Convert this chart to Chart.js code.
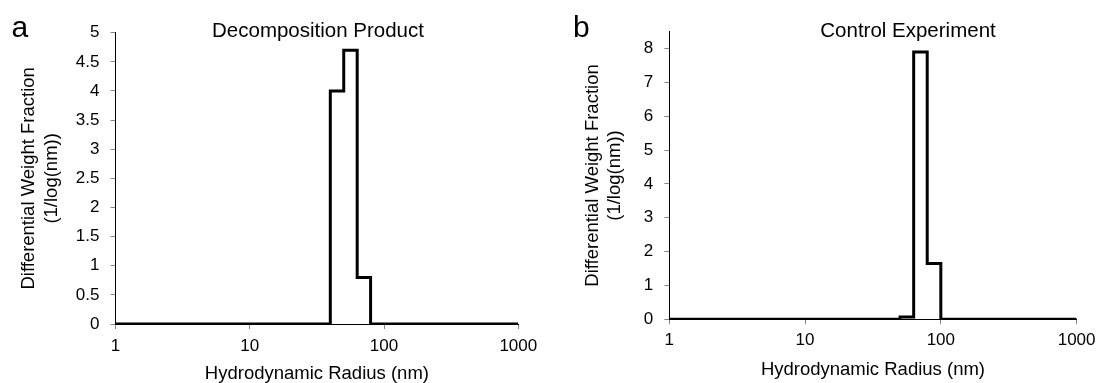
<!DOCTYPE html>
<html>
<head>
<meta charset="utf-8">
<script src="https://cdn.jsdelivr.net/npm/chart.js@4.4.0/dist/chart.umd.min.js"></script>
<style>
  html, body { margin: 0; padding: 0; background: #fff; }
  #wrap { position: relative; width: 1101px; height: 383px; overflow: hidden; }
  .panel { position: absolute; top: 0; height: 383px; }
  #panelA { left: 0; width: 555px; }
  #panelB { left: 555px; width: 546px; }
</style>
</head>
<body>
<div id="wrap">
  <div class="panel" id="panelA"><canvas id="chartA" width="555" height="383"></canvas></div>
  <div class="panel" id="panelB"><canvas id="chartB" width="546" height="383"></canvas></div>
</div>
<script>
// bin edges (nm) and differential weight fraction
const radiusA = [1, 39.8, 50.1, 63.1, 79.4, 1000];
const fractionA = [0, 4.0, 4.7, 0.8, 0, 0];
const radiusB = [1, 50.1, 63.1, 79.4, 100, 1000];
const fractionB = [0, 0.07, 7.9, 1.65, 0, 0];
const radiusTicks = [1, 10, 100, 1000];
const fractionTicksA = [0, 0.5, 1, 1.5, 2, 2.5, 3, 3.5, 4, 4.5, 5];
const fractionTicksB = [0, 1, 2, 3, 4, 5, 6, 7, 8];
const titleA = 'Decomposition Product';
const titleB = 'Control Experiment';
const xTitle = 'Hydrodynamic Radius (nm)';
const yTitle = ['Differential Weight Fraction', '(1/log(nm))'];

const FONT = "'Liberation Sans', Arial, sans-serif";
Chart.defaults.font.family = FONT;
Chart.defaults.color = '#000';

const panelText = {
  id: 'panelText',
  afterDraw(chart, args, opts) {
    const ctx = chart.ctx;
    ctx.save();
    ctx.fillStyle = '#000';
    ctx.textBaseline = 'alphabetic';
    ctx.font = '30px ' + FONT;
    ctx.textAlign = 'left';
    ctx.fillText(opts.letter, opts.letterX, opts.letterY);
    ctx.font = '20.5px ' + FONT;
    ctx.textAlign = 'center';
    ctx.fillText(opts.title, opts.titleX, opts.titleY);
    ctx.restore();
  }
};

function makeChart(id, radius, fraction, yTicks, cfg) {
  const ctx = document.getElementById(id).getContext('2d');
  return new Chart(ctx, {
    type: 'line',
    data: {
      datasets: [{
        data: radius.map((r, i) => ({ x: r, y: fraction[i] })),
        stepped: 'before',
        borderColor: '#000',
        borderWidth: 3,
        pointRadius: 0,
        fill: false
      }]
    },
    options: {
      responsive: false,
      animation: false,
      layout: { padding: { left: 0, top: cfg.top, right: cfg.right, bottom: cfg.bottom } },
      plugins: {
        legend: { display: false },
        tooltip: { enabled: false },
        panelText: cfg.text
      },
      scales: {
        x: {
          type: 'logarithmic',
          min: 1,
          max: 1000,
          afterBuildTicks: (scale) => { scale.ticks = radiusTicks.map(v => ({ value: v })); },
          afterFit: (scale) => { scale.height = cfg.xHeight; },
          ticks: { font: { size: 17 }, padding: cfg.xPad, maxRotation: 0, callback: (v) => String(v) },
          grid: { drawOnChartArea: false, drawTicks: true, tickLength: 5, color: '#888' },
          border: { display: true, color: '#000', width: 1 },
          title: { display: true, text: xTitle, font: { size: 18.5, lineHeight: 1 }, padding: { top: 0, bottom: 0 } }
        },
        y: {
          min: 0,
          max: cfg.yMax,
          afterBuildTicks: (scale) => { scale.ticks = yTicks.map(v => ({ value: v })); },
          afterFit: (scale) => { scale.width = cfg.yWidth; },
          ticks: { font: { size: 17 }, padding: 11, callback: (v) => String(v) },
          grid: { drawOnChartArea: false, drawTicks: true, tickLength: 5, color: '#888' },
          border: { display: true, color: '#000', width: 1 },
          title: { display: true, text: yTitle, font: { size: 18.5, lineHeight: 1.2 }, padding: { top: cfg.yTitlePad, bottom: 0 } }
        }
      }
    },
    plugins: [panelText]
  });
}

makeChart('chartA', radiusA, fractionA, fractionTicksA, {
  top: 32.7, right: 36.7, bottom: 0,
  xHeight: 59, xPad: 7,
  yWidth: 115.5, yTitlePad: 18.2,
  yMax: 5,
  text: { letter: 'a', letterX: 11.5, letterY: 36.5, title: titleA, titleX: 318, titleY: 37.3 }
});

makeChart('chartB', radiusB, fractionB, fractionTicksB, {
  top: 31.7, right: 21, bottom: 3.7,
  xHeight: 60, xPad: 5.5,
  yWidth: 114.3, yTitlePad: 26.7,
  yMax: 8.5,
  text: { letter: 'b', letterX: 18, letterY: 37, title: titleB, titleX: 353, titleY: 37.3 }
});
</script>
</body>
</html>
